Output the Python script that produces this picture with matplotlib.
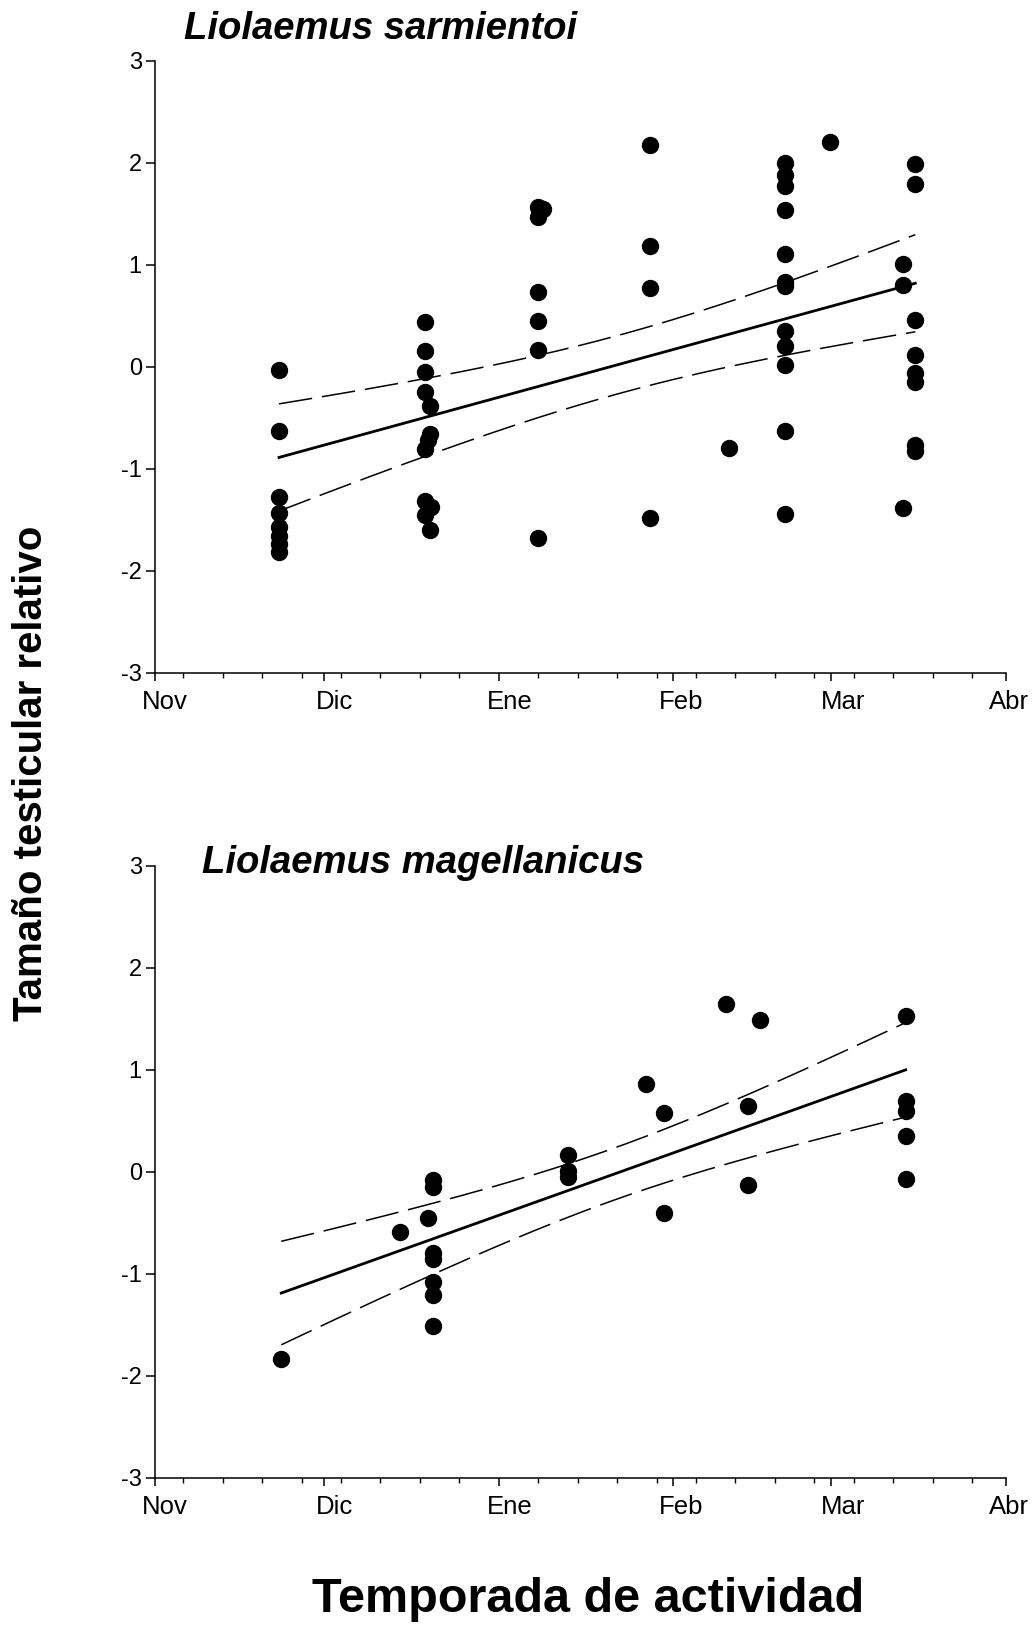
"""Relative testis size through the activity season for two Liolaemus species."""
import matplotlib
matplotlib.use('Agg')
import matplotlib.pyplot as plt
import matplotlib.transforms as mtransforms
import numpy as np

plt.rcParams['font.family'] = 'Liberation Sans'
plt.rcParams['axes.unicode_minus'] = False

# x axis: days since 1 November
MONTHS = ['Nov', 'Dic', 'Ene', 'Feb', 'Mar', 'Abr']
MONTH_START = [0, 30, 61, 92, 120, 151]
WEEK_TICKS = np.arange(5, 151, 7)

# Liolaemus sarmientoi
sarm_day = [22.0, 22.0, 22.0, 22.0, 22.0, 22.0, 22.0, 22.0,
            47.9, 47.9, 47.9, 47.9, 48.8, 48.8, 48.4, 47.9, 47.9, 48.9, 47.9, 48.8,
            67.9, 68.8, 67.9, 67.9, 67.9, 67.9, 67.9,
            87.9, 87.9, 87.9, 87.9,
            101.9,
            111.8, 111.8, 111.8, 111.8, 111.8, 111.8, 111.8, 111.8, 111.8, 111.8, 111.8, 111.8,
            119.8,
            132.8, 132.8, 132.8,
            134.9, 134.9, 134.9, 134.9, 134.9, 134.9, 134.9, 134.9]
sarm_val = [-0.03, -0.63, -1.27, -1.43, -1.57, -1.66, -1.74, -1.81,
            0.44, 0.16, -0.05, -0.25, -0.38, -0.66, -0.72, -0.80, -1.31, -1.37, -1.45, -1.60,
            1.57, 1.55, 1.47, 0.74, 0.45, 0.17, -1.68,
            2.18, 1.19, 0.77, -1.48,
            -0.79,
            2.00, 1.88, 1.77, 1.54, 1.11, 0.83, 0.79, 0.35, 0.21, 0.02, -0.63, -1.44,
            2.21,
            1.01, 0.80, -1.38,
            1.99, 1.79, 0.46, 0.12, -0.06, -0.15, -0.76, -0.82]

# Liolaemus magellanicus
mag_day = [22.4, 43.4, 48.4,
           49.3, 49.3, 49.3, 49.3, 49.3, 49.3, 49.3,
           73.2, 73.2, 73.2,
           87.2, 90.3, 90.3,
           101.3, 105.3, 105.3, 107.3,
           133.2, 133.2, 133.2, 133.2, 133.2]
mag_val = [-1.83, -0.59, -0.45,
           -0.08, -0.15, -0.79, -0.85, -1.08, -1.21, -1.51,
           0.17, 0.01, -0.05,
           0.86, 0.58, -0.40,
           1.65, 0.65, -0.13, 1.49,
           1.53, 0.70, 0.60, 0.35, -0.07]


def t975(df):
    # Cornish-Fisher approximation of the 97.5% Student t quantile
    z = 1.959964
    return (z + (z**3 + z) / (4 * df)
            + (5 * z**5 + 16 * z**3 + 3 * z) / (96 * df**2))


def fit_band(day, val):
    x = np.asarray(day); y = np.asarray(val)
    n = len(x)
    b, a = np.polyfit(x, y, 1)
    s = np.sqrt(np.sum((y - (a + b * x))**2) / (n - 2))
    sxx = np.sum((x - x.mean())**2)
    xs = np.linspace(x.min(), x.max(), 200)
    yf = a + b * xs
    half = t975(n - 2) * s * np.sqrt(1.0 / n + (xs - x.mean())**2 / sxx)
    return xs, yf, yf - half, yf + half


def draw(ax, day, val):
    xs, yf, lo, hi = fit_band(day, val)
    ax.plot(xs, yf, color='black', lw=2.0, zorder=2)
    for band in (lo, hi):
        ax.plot(xs, band, color='black', lw=1.1, dashes=(22, 6.5), zorder=2)
    ax.plot(day, val, 'o', ms=11.5, color='black', mec='black', zorder=3)

    ax.set_xlim(0, 151); ax.set_ylim(-3, 3)
    for side in ('top', 'right'):
        ax.spines[side].set_visible(False)
    for side in ('left', 'bottom'):
        ax.spines[side].set_linewidth(1.1)
    ax.set_xticks(MONTH_START)
    ax.set_xticklabels(MONTHS)
    ax.set_xticks(WEEK_TICKS, minor=True)
    ax.set_yticks(range(-3, 4))
    ax.tick_params(axis='x', which='major', direction='out', length=6,
                   width=1.1, labelsize=18.5, pad=6)
    ax.tick_params(axis='x', which='minor', direction='out', length=3.5, width=1.0)
    ax.tick_params(axis='y', direction='out', length=6.5, width=1.1,
                   labelsize=17, pad=3)
    # month labels sit a little right of their ticks; the last one is squeezed in
    for lab, dx in zip(ax.get_xticklabels(), [0.10, 0.10, 0.11, 0.08, 0.12, 0.03]):
        shift = mtransforms.ScaledTranslation(dx, 0, ax.figure.dpi_scale_trans)
        lab.set_transform(lab.get_transform() + shift)


def main():
    W, H = 1035, 1627
    fig = plt.figure(figsize=(W / 100, H / 100), dpi=100)
    left, right = 155, 1006
    ax1 = fig.add_axes([left / W, 1 - 673 / H, (right - left) / W, 612 / H])
    ax2 = fig.add_axes([left / W, 1 - 1478 / H, (right - left) / W, 612 / H])
    draw(ax1, sarm_day, sarm_val)
    draw(ax2, mag_day, mag_val)

    fig.text(184 / W, 1 - 29 / H, 'Liolaemus sarmientoi', fontsize=27.5,
             weight='bold', style='italic', ha='left', va='center')
    fig.text(202 / W, 1 - 863 / H, 'Liolaemus magellanicus', fontsize=27.5,
             weight='bold', style='italic', ha='left', va='center')
    fig.text(31 / W, 1 - 773 / H, 'Tamaño testicular relativo', fontsize=29,
             weight='bold', rotation=90, ha='center', va='center')
    fig.text(588 / W, 1 - 1600 / H, 'Temporada de actividad', fontsize=35,
             weight='bold', ha='center', va='center')

    fig.savefig('out.png', dpi=100, facecolor='white')
    plt.close(fig)


if __name__ == '__main__':
    main()
